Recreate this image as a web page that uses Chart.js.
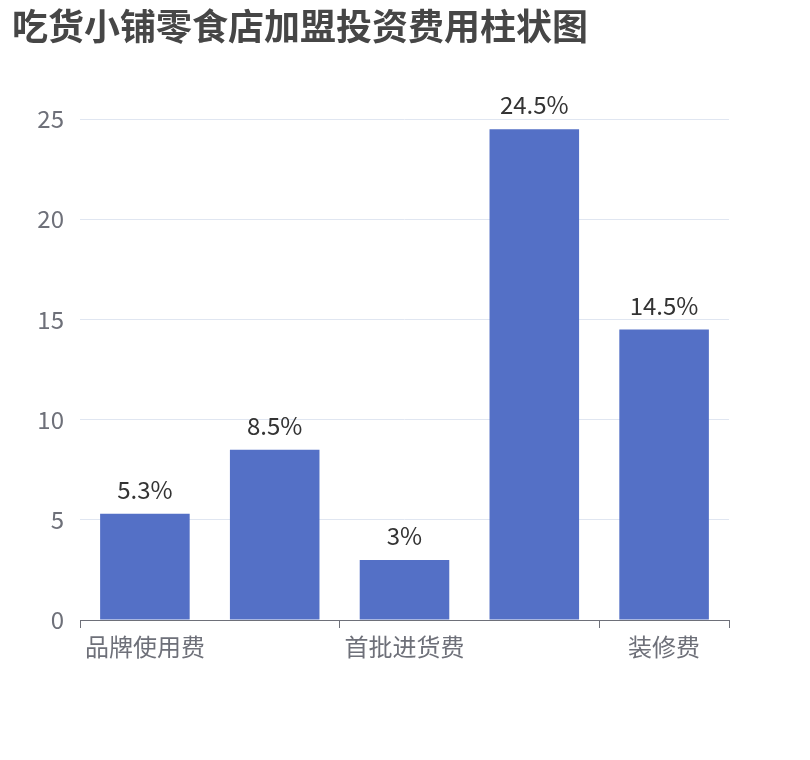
<!DOCTYPE html>
<html>
<head>
<meta charset="utf-8">
<title>吃货小铺零食店加盟投资费用柱状图</title>
<script src="https://cdn.jsdelivr.net/npm/chart.js@4"></script>
<style>
  body { margin: 0; background: #fff; }
  #wrap { width: 810px; height: 760px; position: relative; }
</style>
</head>
<body>
<div id="wrap"><canvas id="cost_chart"></canvas></div>
<script>
// chart data
const categories = ['品牌使用费', '加盟费', '首批进货费', '设备费', '装修费'];
const shares = [5.3, 8.5, 3, 24.5, 14.5];
const yTicks = [0, 5, 10, 15, 20, 25];

const FONT = '"Noto Sans CJK SC", "Noto Sans", sans-serif';

// value labels above each bar
const barLabels = {
    id: 'barLabels',
    afterDatasetsDraw(chart) {
        const ctx = chart.ctx;
        const meta = chart.getDatasetMeta(0);
        ctx.save();
        ctx.font = '24px ' + FONT;
        ctx.fillStyle = '#333333';
        ctx.textAlign = 'center';
        ctx.textBaseline = 'alphabetic';
        meta.data.forEach(function (bar, i) {
            ctx.fillText(shares[i] + '%', bar.x, bar.y - 15);
        });
        ctx.restore();
    }
};

function everyOther(ctx) {
    // ticks only on shown labels and at the end of the axis
    if (ctx.index === undefined || ctx.index % 2 === 0) return '#6E7079';
    return 'rgba(0,0,0,0)';
}

new Chart(document.getElementById('cost_chart'), {
    type: 'bar',
    data: {
        labels: categories,
        datasets: [{
            label: '费用占比',
            data: shares,
            backgroundColor: '#5470C6',
            borderWidth: 0,
            categoryPercentage: 1,
            barPercentage: 0.69
        }]
    },
    options: {
        responsive: true,
        maintainAspectRatio: false,
        animation: false,
        layout: { padding: { left: 12, right: 81, top: 0, bottom: 0 } },
        plugins: {
            legend: { display: false },
            tooltip: { enabled: false },
            title: {
                display: true,
                text: '吃货小铺零食店加盟投资费用柱状图',
                align: 'start',
                color: '#464646',
                font: { family: FONT, size: 36, weight: 'bold', lineHeight: 1.2 },
                padding: { top: 5, bottom: 71 }
            }
        },
        scales: {
            x: {
                offset: true,
                grid: {
                    offset: true,
                    drawOnChartArea: false,
                    drawTicks: true,
                    tickLength: 8,
                    color: everyOther
                },
                border: { display: true, color: '#6E7079', width: 1 },
                ticks: {
                    autoSkip: false,
                    maxRotation: 0,
                    padding: 4,
                    color: '#6E7079',
                    font: { family: FONT, size: 24 },
                    callback: function (value, index) {
                        return index % 2 === 0 ? categories[index] : '';
                    }
                },
                afterFit: function (scale) { scale.height = 140; }
            },
            y: {
                min: 0,
                max: yTicks[yTicks.length - 1],
                grid: { color: '#E0E6F1', drawTicks: false },
                border: { display: false },
                afterBuildTicks: function (scale) {
                    scale.ticks = yTicks.map(function (v) { return { value: v }; });
                },
                ticks: {
                    padding: 16,
                    color: '#6E7079',
                    font: { family: FONT, size: 24 }
                },
                afterFit: function (scale) { scale.width = 68; }
            }
        }
    },
    plugins: [barLabels]
});
</script>
</body>
</html>
